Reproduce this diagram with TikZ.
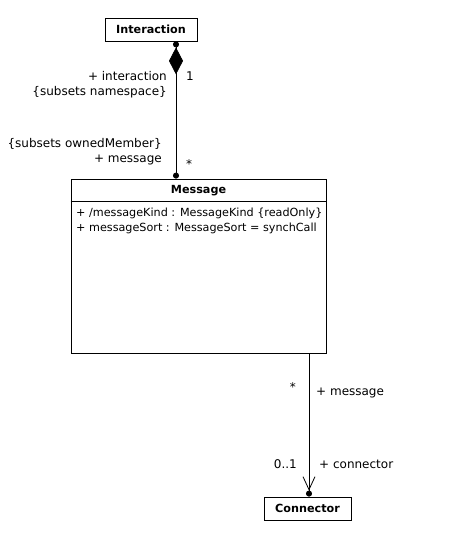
\documentclass[tikz,border=0pt]{standalone}
\usepackage{fontspec}
\setmainfont{DejaVu Sans}
\usetikzlibrary{arrows.meta}

\begin{document}
\begin{tikzpicture}[x=1pt,y=-1pt,
    classbox/.style={draw, line width=0.8pt, inner sep=0pt, font=\bfseries\fontsize{11.2}{13}\selectfont},
    assoc/.style={line width=0.8pt},
    lbl/.style={inner sep=0pt, font=\fontsize{12}{15}\selectfont},
    attr/.style={inner sep=0pt, anchor=base west, font=\fontsize{11.2}{15}\selectfont}]

% Define canvas
\useasboundingbox (0,0) rectangle (449,546);

% ===== Interaction class =====
\node[classbox, minimum width=92pt, minimum height=23pt] (interaction) at (151,29.5) {Interaction};

% ===== Message class =====
\node[classbox, minimum width=255pt, minimum height=174pt] (message) at (198.5,266) {};
\node[inner sep=0pt, font=\bfseries\fontsize{11.2}{13}\selectfont] (msgname) at (198.5,191) {Message};
\draw[assoc] ([yshift=-23pt]message.north west) -- ([yshift=-23pt]message.north east);
\node[attr] (kind) at (76,216) {+ /messageKind : MessageKind \{readOnly\}};
\node[attr] (sort) at (76,231) {+ messageSort : MessageSort = synchCall};

% ===== Connector class =====
\node[classbox, minimum width=87pt, minimum height=23pt] (connector) at (307.5,508.5) {Connector};

% ===== Composition: Interaction -- Message =====
\draw[assoc, {Circle[length=6pt]Diamond[length=27pt,width=14pt]}-{Circle[length=6pt]}]
    (176,0 |- interaction.south) -- (176,0 |- message.north);

% Role names and multiplicities
\node[lbl, align=right, anchor=base east] (interrole) at (167,95) {+ interaction\\\{subsets namespace\}};
\node[lbl, anchor=base west] (intermult) at (186,80) {1};
\node[lbl, align=right, anchor=base east] (msgrole) at (162,162) {\{subsets ownedMember\}\\+ message};
\node[lbl, anchor=base west] (msgmult) at (186,168) {*};

% ===== Association: Message -- Connector =====
\draw[assoc, -{Straight Barb[length=13pt,width=12pt]Circle[length=6pt]}]
    (309,0 |- message.south) -- (309,0 |- connector.north);

% Role names and multiplicities
\node[lbl, anchor=base east] (msgmult2) at (296,391) {*};
\node[lbl, anchor=base west] (msgrole2) at (316,395) {+ message};
\node[lbl, anchor=base east] (connmult) at (297,468) {0..1};
\node[lbl, anchor=base west] (connrole) at (319,468) {+ connector};

\end{tikzpicture}
\end{document}
